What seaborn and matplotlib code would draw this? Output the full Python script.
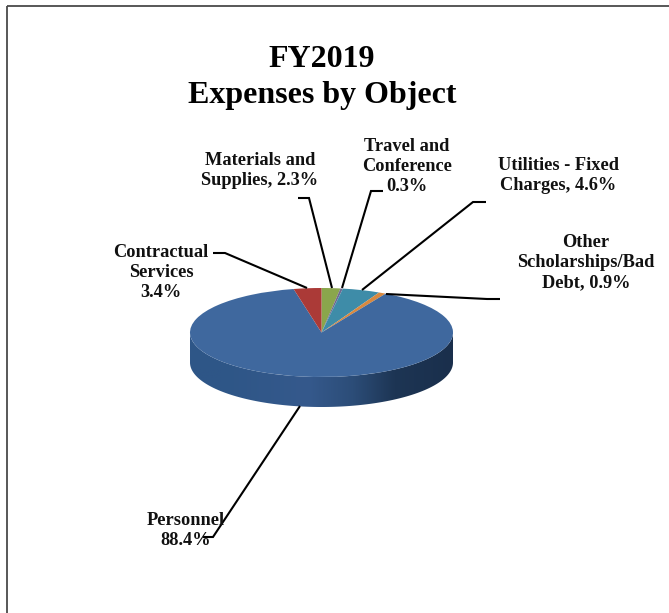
import numpy as np
import matplotlib
matplotlib.use("Agg")
import matplotlib.pyplot as plt
from matplotlib.colors import LinearSegmentedColormap
from matplotlib.patches import Polygon
import seaborn as sns

# Data, clockwise from 12 o'clock
categories = ["Materials and Supplies", "Travel and Conference", "Utilities - Fixed Charges",
              "Other Scholarships/Bad Debt", "Personnel", "Contractual Services"]
values = [2.3, 0.3, 4.6, 0.9, 88.4, 3.4]
colors = ["#8AA64C", "#71688F", "#3E8CA8", "#D9893F", "#3F689E", "#AB3A37"]
title_text = "FY2019\nExpenses by Object"
label_texts = ["Materials and\nSupplies, 2.3%", "Travel and\nConference\n0.3%",
               "Utilities - Fixed\nCharges, 4.6%", "Other\nScholarships/Bad\nDebt, 0.9%",
               "Personnel\n88.4%", "Contractual\nServices\n3.4%"]
label_x = [260, 407, 558, 586, 186, 161]
label_last_baseline = [185, 191, 190.5, 287, 545, 297]
leaders = [
    [(298, 198), (309, 198), (332, 288)],
    [(383, 191), (371, 191), (342, 288)],
    [(486, 202), (473, 202), (362, 290)],
    [(386, 294), (487, 299), (500, 299)],
    [(300, 406), (213, 537), (203, 537)],
    [(213, 253), (225, 253), (307, 288)],
]

W, H = 669, 613
cx, cy, rx, ry, depth = 321.5, 332.5, 131.5, 44.5, 30

sns.set_theme(style="white")
plt.rcParams["font.family"] = ["Liberation Serif", "DejaVu Serif"]
palette = sns.color_palette(colors)

fig = plt.figure(figsize=(W / 100, H / 100), dpi=100, facecolor="white")

# Page-level axes in pixel units
page = fig.add_axes([0, 0, 1, 1], zorder=1)
page.set_xlim(0, W)
page.set_ylim(H, 0)
page.axis("off")

# Frame: only top and left rules are visible
page.plot([6.5, W], [5.5, 5.5], color="#4a4a4a", lw=1.3, solid_capstyle="butt")
page.plot([6.5, 6.5], [5.5, H], color="#4a4a4a", lw=1.3, solid_capstyle="butt")

# Pie side wall with a horizontal shading
t = np.linspace(0, np.pi, 200)
ex, ey = cx + rx * np.cos(t), cy + ry * np.sin(t)
side = np.vstack([np.column_stack([ex, ey + depth]),
                  np.column_stack([ex[::-1], ey[::-1]])])
shade = LinearSegmentedColormap.from_list(
    "side", [(0.0, "#2F5687"), (0.12, "#2E5687"), (0.45, "#35598C"),
             (0.62, "#2C4D78"), (0.78, "#1D3554"), (1.0, "#1A2F4C")])
im = page.imshow(np.linspace(0, 1, 256)[None, :], cmap=shade, aspect="auto",
                 extent=[cx - rx, cx + rx, cy + ry + depth, cy], zorder=1)
im.set_clip_path(Polygon(side, closed=True, transform=page.transData))
page.set_xlim(0, W)
page.set_ylim(H, 0)

# Pie top, squashed into the ellipse
pie_ax = fig.add_axes([(cx - rx) / W, 1 - (cy + ry) / H, 2 * rx / W, 2 * ry / H], zorder=2)
pie_ax.pie(values, colors=palette, startangle=90, counterclock=False, radius=1,
           wedgeprops=dict(linewidth=0))
pie_ax.set_aspect("auto")
pie_ax.set_xlim(-1, 1)
pie_ax.set_ylim(-1, 1)
pie_ax.patch.set_alpha(0)
pie_ax.axis("off")

# Overlay for text and leader lines
top = fig.add_axes([0, 0, 1, 1], zorder=3)
top.set_xlim(0, W)
top.set_ylim(H, 0)
top.axis("off")
top.patch.set_alpha(0)

top.text(322, 103, title_text, ha="center", va="baseline", ma="center",
         fontsize=23, fontweight="bold", color="black", linespacing=1.3)

for pts in leaders:
    xs, ys = zip(*pts)
    top.plot(xs, ys, color="black", lw=1.5, solid_joinstyle="miter", solid_capstyle="butt")

for txt, x, y in zip(label_texts, label_x, label_last_baseline):
    top.text(x, y, txt, ha="center", va="baseline", ma="center",
             fontsize=13.2, fontweight="bold", color="#111111", linespacing=1.24)

fig.savefig("out.png", dpi=100, facecolor="white")
